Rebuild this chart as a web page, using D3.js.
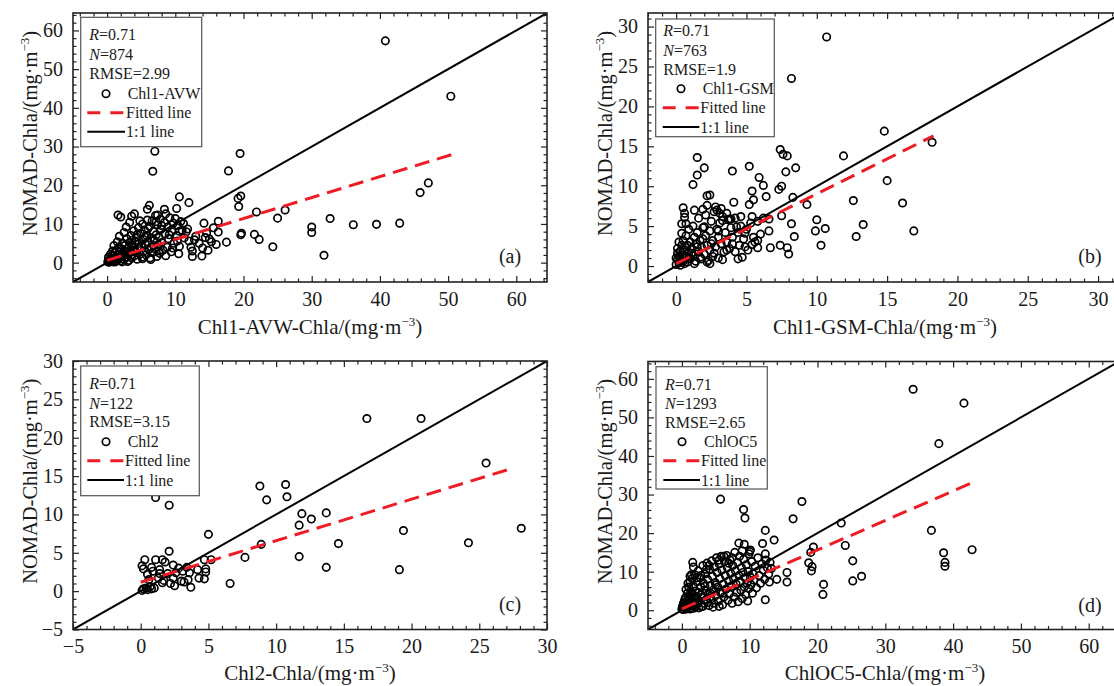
<!DOCTYPE html>
<html><head><meta charset="utf-8">
<script src="https://cdn.jsdelivr.net/npm/d3@7"></script>
<style>body{margin:0;background:#fff;overflow:hidden}</style>
</head><body>
<svg id="chart" width="1114" height="686"></svg>
<script>
// ---------------- DATA ----------------
const panelLetters = ["(a)", "(b)", "(c)", "(d)"];
const xTitles = ["Chl1-AVW-Chla", "Chl1-GSM-Chla", "Chl2-Chla", "ChlOC5-Chla"];
const yTitle = "NOMAD-Chla";
const unitText = "/(mg·m";
const unitSup = "−3";
const seriesNames = ["Chl1-AVW", "Chl1-GSM", "Chl2", "ChlOC5"];
const statR = ["0.71", "0.71", "0.71", "0.71"];
const statN = ["874", "763", "122", "1293"];
const statRMSE = ["2.99", "1.9", "3.15", "2.65"];
const legendFit = "Fitted line";
const legendOne = "1:1 line";

const xDomains = [[-5, 64.5], [-2, 31.7], [-5, 30], [-5, 65.5]];
const yDomains = [[-5, 64.5], [-2, 31.7], [-5, 30], [-5, 64.5]];
const majorTicks = [
  [0, 10, 20, 30, 40, 50, 60],
  [0, 5, 10, 15, 20, 25, 30],
  [-5, 0, 5, 10, 15, 20, 25, 30],
  [0, 10, 20, 30, 40, 50, 60]
];
const minorSteps = [2, 1, 1, 2];

// fitted lines: [start, end]
const fitA = [[0, 0.6], [50.7, 28.0]];
const fitB = [[0, 0.3], [18.3, 16.3]];
const fitC = [[0, 1.16], [27.6, 16.1]];
const fitD = [[0, 0.35], [43.0, 33.2]];

const pointsA = [
  [40.8,57.3],[50.4,43.0],[7.0,28.8],[6.7,23.6],[19.5,28.2],[17.8,23.7],[19.6,17.2],[19.2,16.6],[19.3,14.5],
  [47.1,20.6],[45.9,18.1],[21.9,13.1],[26.1,13.6],[25.0,11.5],[32.7,11.4],[30.0,9.2],[30.0,7.8],[36.1,9.8],
  [39.5,9.9],[42.9,10.2],[31.8,1.9],[24.3,4.1],[21.6,7.3],[22.3,6.0],[19.7,7.6],[19.6,7.2],[10.6,17.0],
  [12.0,15.5],[10.2,14.0],[6.2,14.8],[5.9,13.8],[1.6,12.3],[2.0,11.8],[3.6,12.0],[4.0,12.6],[7.4,12.3],
  [8.4,13.8],[16.3,10.7],[16.3,7.9],[14.2,10.2],[17.5,5.3],[16.0,4.7],[14.8,3.2],[13.9,1.7],[12.5,1.6],
  [10.5,2.3],[14.4,6.5],[15.0,6.1],[12.8,5.9],[11.2,10.1],[10.6,8.1],[11.8,8.7],
  [0.1,0.2],[0.2,0.5],[0.3,0.1],[0.4,0.8],[0.5,0.3],[0.6,1.2],[0.7,0.5],[0.8,1.8],[0.9,0.2],[1.0,0.9],
  [1.1,2.5],[1.2,1.4],[1.3,0.4],[1.4,3.2],[1.5,2.0],[1.6,0.8],[1.7,4.0],[1.8,1.2],[1.9,2.8],[2.0,0.5],
  [2.1,3.6],[2.2,1.8],[2.3,5.0],[2.4,2.4],[2.5,0.9],[2.6,4.4],[2.7,3.0],[2.8,1.4],[2.9,6.2],[3.0,2.0],
  [3.1,3.8],[3.2,0.6],[3.3,5.2],[3.4,2.6],[3.5,7.0],[3.6,1.2],[3.7,4.4],[3.8,3.2],[3.9,8.2],[4.0,1.8],
  [4.1,5.6],[4.2,2.8],[4.3,6.6],[4.4,0.9],[4.5,3.8],[4.6,9.0],[4.7,5.0],[4.8,2.2],[4.9,7.6],[5.0,4.2],
  [5.1,1.4],[5.2,10.0],[5.3,6.0],[5.4,3.0],[5.5,8.4],[5.6,4.8],[5.7,2.0],[5.8,7.0],[5.9,11.0],[6.0,5.4],
  [6.1,3.4],[6.2,9.4],[6.3,1.2],[6.4,6.4],[6.5,4.0],[6.6,10.8],[6.7,2.6],[6.8,8.0],[6.9,5.8],[7.0,3.6],
  [7.1,12.2],[7.2,7.2],[7.3,1.6],[7.4,9.8],[7.5,4.6],[7.6,6.6],[7.7,2.4],[7.8,11.2],[7.9,8.6],[8.0,5.2],
  [8.2,3.2],[8.4,10.4],[8.5,7.4],[8.6,12.6],[8.8,4.0],[8.9,9.2],[9.0,6.2],[9.2,11.6],[9.4,2.8],[9.5,8.0],
  [9.7,10.2],[9.8,5.0],[10.0,11.4],[10.2,7.0],[10.4,9.6],[10.6,4.2],[10.8,10.6],[11.0,8.4],[11.3,6.4],
  [11.6,8.0],[12.0,5.6],[12.3,4.0],[12.5,3.0],[13.0,6.8],[13.5,5.0],[14.0,3.8],[14.6,7.6],[15.3,5.4],[15.6,9.0],
  [0.2,1.4],[0.5,2.2],[0.8,3.0],[1.0,4.4],[1.2,0.2],[1.5,5.4],[1.8,6.8],[2.2,0.2],[2.5,7.8],[2.8,9.2],
  [3.0,0.3],[3.3,10.4],[3.6,5.8],[4.0,3.0],[4.4,7.2],[4.8,10.8],[5.2,1.0],[5.6,6.6],[6.0,8.8],[6.4,0.8],
  [6.8,4.4],[7.2,10.6],[7.6,3.0],[8.0,9.6],[8.6,1.8],[9.1,7.2],[9.6,3.8],[10.3,5.6],[1.0,1.8],[1.4,1.0]
];

const pointsB = [
  [10.7,28.7],[8.2,23.5],[14.8,16.9],[18.2,15.5],[11.9,13.8],[15.0,10.7],[16.1,7.9],[12.6,8.2],[16.9,4.4],
  [13.3,5.2],[12.8,3.7],[10.3,2.6],[10.6,4.7],[9.9,4.4],[10.0,5.8],[9.3,7.7],[8.5,12.3],[7.8,11.8],[7.4,14.6],
  [7.6,14.0],[7.9,13.8],[7.5,10.0],[7.3,9.6],[8.3,8.6],[7.5,6.3],[8.2,5.3],[8.4,3.7],[7.4,2.6],[7.9,2.3],
  [8.0,1.5],[6.7,2.3],[6.6,4.4],[6.6,5.9],[6.4,8.7],[6.2,10.1],[5.9,11.1],[5.2,12.5],[5.4,9.4],[5.5,8.3],
  [5.2,7.7],[5.4,6.2],[5.8,5.6],[5.8,3.2],[5.8,2.3],[5.5,3.6],[5.4,2.7],[4.9,2.4],[4.7,1.1],[4.9,4.1],
  [4.6,6.2],[4.0,11.9],[4.1,8.0],[1.5,13.6],[2.0,12.3],[1.5,11.4],[1.2,10.2],[2.2,8.8],[2.4,8.9],[2.2,7.6],
  [1.9,7.1],[0.5,7.3],[0.6,6.6],[0.7,5.3],[0.4,4.1],[2.8,7.4],[3.1,6.6],[3.3,5.7],[3.8,5.9],[2.0,4.9],
  [0.0,0.2],[0.1,0.8],[0.1,1.6],[0.2,0.4],[0.2,1.2],[0.3,1.9],[0.3,0.1],[0.4,0.7],[0.4,2.6],[0.5,1.4],
  [0.5,3.2],[0.6,0.3],[0.6,2.0],[0.7,1.0],[0.7,3.8],[0.8,2.6],[0.8,0.5],[0.9,1.7],[0.9,4.6],[1.0,3.0],
  [1.0,0.9],[1.1,2.2],[1.2,5.0],[1.2,1.3],[1.3,3.6],[1.4,0.6],[1.4,2.8],[1.5,4.2],[1.6,1.8],[1.6,6.0],
  [1.7,3.2],[1.8,0.9],[1.8,2.4],[1.9,4.8],[2.0,1.5],[2.1,3.8],[2.1,6.4],[2.2,2.6],[2.3,0.7],[2.4,4.4],
  [2.4,2.0],[2.5,5.6],[2.6,3.2],[2.6,1.2],[2.7,6.8],[2.8,2.4],[2.9,4.6],[3.0,1.0],[3.0,3.6],[3.1,5.4],
  [3.2,2.8],[3.3,6.2],[3.4,1.8],[3.5,4.2],[3.6,3.0],[3.7,5.8],[3.8,2.2],[3.9,4.8],[4.0,3.6],[4.2,1.8],
  [4.2,6.0],[4.4,4.2],[4.5,2.6],[4.6,5.0],[4.8,3.4],[5.0,4.6],[5.1,2.0],[5.3,5.4],[5.6,3.0],[6.0,4.0],
  [6.2,6.0],[3.2,7.2],[2.9,7.0],[3.6,6.6],[1.3,7.0],[0.6,6.1],[0.4,5.3],[0.2,3.0],[3.9,5.9],[4.3,4.9],
  [0.0,1.0],[0.1,2.2],[0.3,0.9],[0.5,0.6],[0.7,2.4],[0.9,1.1],[1.1,1.6],[1.3,0.3],[1.5,2.4],[1.7,1.1],
  [1.9,3.4],[2.2,0.5],[2.5,2.8],[2.7,1.6],[3.0,4.4],[3.3,0.8],[3.6,2.0],[4.0,2.8],[4.4,0.9],[2.4,0.3]
];

const pointsC = [
  [16.7,22.5],[20.7,22.5],[25.5,16.7],[28.1,8.2],[24.2,6.3],[19.4,7.9],[19.1,2.8],[14.6,6.2],[13.7,3.1],
  [13.7,10.2],[12.6,9.4],[11.9,10.1],[11.7,8.6],[11.7,4.5],[10.7,13.9],[10.8,12.3],[8.8,13.7],[9.3,11.9],
  [8.9,6.1],[7.7,4.4],[6.6,1.0],[5.0,7.4],[2.1,11.2],[1.1,12.2],[2.1,5.2],[0.3,4.1],[0.1,3.3],[0.2,2.9],
  [1.1,4.1],[0.8,3.1],[1.4,2.8],[1.6,4.1],[1.8,3.8],[0.5,2.2],[2.4,3.4],[2.8,3.0],[2.4,1.7],[2.5,0.7],
  [3.0,1.3],[3.2,1.2],[3.4,3.1],[3.6,2.4],[3.7,0.5],[3.5,1.5],[4.3,1.7],[4.7,1.6],[4.2,2.8],[4.8,2.9],
  [4.7,4.1],[5.2,4.1],[4.8,2.5],[1.6,1.1],[1.0,0.4],[0.7,0.6],[0.4,0.4],[0.1,0.1],[0.2,0.3],[0.5,0.2],
  [0.8,0.3],[1.4,2.3],[1.7,1.4],[2.0,2.3],[2.2,1.0],[1.3,1.7],[0.6,1.5],[0.9,2.6],[2.6,2.4],[3.1,2.6]
];

const pointsD = [
  [34.1,57.3],[41.6,53.7],[37.9,43.2],[5.7,28.8],[9.1,26.1],[9.3,23.9],[17.7,28.2],[16.4,23.7],[23.5,22.6],
  [36.8,20.7],[42.8,15.7],[38.6,14.9],[38.8,12.4],[38.8,11.4],[24.1,16.8],[25.2,12.8],[25.2,7.6],[26.5,8.8],
  [20.9,6.7],[20.8,4.1],[19.4,16.4],[19.0,15.0],[18.7,12.3],[19.2,11.3],[19.1,10.2],[15.5,9.8],[15.5,7.3],
  [13.6,18.2],[12.3,20.7],[11.9,17.3],[12.3,14.6],[12.3,2.7],[14.0,8.0],[12.9,7.3],[10.1,15.6],[9.2,17.1],
  [8.4,17.4],[1.6,12.4],[1.7,11.2],[1.2,8.8],
  [0.0,0.3],[0.1,1.0],[0.2,0.2],[0.3,2.0],[0.4,0.8],[0.5,3.2],[0.6,1.5],[0.7,0.4],[0.8,4.4],[0.9,2.4],
  [1.0,6.0],[1.0,1.0],[1.1,3.4],[1.2,7.4],[1.3,0.6],[1.3,5.0],[1.4,2.0],[1.5,8.2],[1.6,4.0],[1.6,1.2],
  [1.7,6.2],[1.8,2.8],[1.9,9.2],[2.0,0.8],[2.0,5.0],[2.1,3.6],[2.2,7.4],[2.3,1.6],[2.4,10.2],[2.5,4.6],
  [2.6,2.4],[2.7,8.4],[2.8,6.0],[2.9,0.9],[3.0,3.4],[3.1,11.6],[3.2,7.0],[3.3,1.8],[3.4,9.4],[3.5,5.0],
  [3.6,2.8],[3.7,12.2],[3.8,8.0],[3.9,4.2],[4.0,1.2],[4.1,10.6],[4.2,6.4],[4.3,3.0],[4.4,12.8],[4.5,8.8],
  [4.6,5.2],[4.7,1.8],[4.8,11.2],[4.9,7.2],[5.0,3.8],[5.1,13.6],[5.2,9.8],[5.3,6.0],[5.4,2.4],[5.5,12.0],
  [5.6,8.2],[5.7,4.6],[5.8,14.0],[5.9,10.4],[6.0,1.4],[6.1,6.8],[6.2,3.4],[6.3,12.6],[6.4,9.0],[6.5,5.4],
  [6.6,14.2],[6.7,11.0],[6.8,2.6],[6.9,7.6],[7.0,4.2],[7.1,13.0],[7.2,9.6],[7.3,6.2],[7.4,1.8],[7.5,11.6],
  [7.6,8.2],[7.7,3.4],[7.8,15.0],[7.9,10.2],[8.0,6.8],[8.1,4.6],[8.2,12.4],[8.3,2.2],[8.4,9.0],[8.5,14.0],
  [8.6,7.4],[8.7,5.2],[8.8,11.0],[8.9,3.0],[9.0,9.8],[9.1,13.2],[9.2,6.0],[9.3,8.4],[9.4,4.0],[9.5,11.8],
  [9.6,7.0],[9.7,2.4],[9.8,10.0],[9.9,5.6],[10.0,15.2],[10.1,8.6],[10.2,6.6],[10.3,12.6],[10.4,4.4],[10.5,9.4],
  [10.6,7.8],[10.8,11.4],[11.0,5.8],[11.2,13.6],[11.4,9.0],[11.6,7.0],[11.8,12.0],[12.0,10.4],[12.2,8.0],
  [12.4,13.0],[12.6,11.0],[12.8,9.4],[13.0,12.4],[13.2,10.8],[6.2,14.0],[6.9,12.2],[7.4,13.6],[8.9,15.4],
  [9.9,14.6],[5.5,13.0],[4.0,11.6],[3.6,10.6],[2.8,9.0],[2.2,8.4],[1.4,9.2],[0.9,7.0],[0.6,5.4],
  [0.2,1.6],[0.4,2.6],[0.6,0.3],[0.8,1.8],[1.0,3.0],[1.2,0.3],[1.4,4.4],[1.7,0.5],[1.9,2.0],[2.2,3.0],
  [2.5,0.6],[2.8,4.0],[3.1,1.0],[3.4,6.2],[3.8,2.0],[4.2,4.4],[4.6,0.8],[5.0,6.6],[5.5,1.0],[6.0,4.4]
];

const allPoints = [pointsA, pointsB, pointsC, pointsD];
const allFits = [fitA, fitB, fitC, fitD];

// ---------------- LAYOUT ----------------
const FONT = '"Liberation Serif", "Times New Roman", Times, serif';
const layout = [
  {l: 73, t: 13, w: 474, h: 269, xt: 52},
  {l: 648, t: 13, w: 474, h: 269, xt: 52},
  {l: 73, t: 361, w: 474, h: 268.5, xt: 50},
  {l: 648, t: 361.5, w: 478, h: 268, xt: 50}
];
const legendLayout = [
  {box: [7.7, 4.3, 121, 129.4], rows: [21.7, 41.3, 60.7, 80.7, 99.7, 118.7], tx: 16.3, cx: 33, ix: 54.7, lx: [14.3, 52]},
  {box: [7.7, 6, 118.6, 117.7], rows: [17.7, 37, 56.3, 75.7, 94.7, 114], tx: 15.3, cx: 33, ix: 54.7, lx: [14.7, 51.3]},
  {box: [7.7, 5, 118.6, 129.7], rows: [22.3, 42.3, 60.7, 80.7, 99.7, 119], tx: 16.3, cx: 33, ix: 54.7, lx: [14.3, 51]},
  {box: [8, 5.2, 111.3, 122.3], rows: [22.5, 41.8, 60.8, 80.2, 99.2, 118.5], tx: 17, cx: 34, ix: 56, lx: [15.3, 52]}
];
const letterX = [437, 442, 437, 442];

const svg = d3.select("#chart");
const RED = "#ee1c25";
const INK = "#1a1a1a";

layout.forEach((L, i) => {
  const g = svg.append("g").attr("transform", `translate(${L.l},${L.t})`);
  const xd = xDomains[i], yd = yDomains[i];
  const x = d3.scaleLinear().domain(xd).range([0, L.w]);
  const y = d3.scaleLinear().domain(yd).range([L.h, 0]);
  const minorOf = d => d3.range(Math.ceil(d[0] / minorSteps[i]) * minorSteps[i], d[1] + 1e-9, minorSteps[i])
    .filter(v => !majorTicks[i].includes(v));
  const minorX = minorOf(xd), minorY = minorOf(yd);
  const fmt = v => (v < 0 ? "−" + Math.abs(v) : String(v));

  const clipId = "clip" + i;
  g.append("clipPath").attr("id", clipId).append("rect").attr("width", L.w).attr("height", L.h);
  const plot = g.append("g").attr("clip-path", `url(#${clipId})`);

  const styleAxis = (sel) => {
    sel.select(".domain").remove();
    sel.selectAll("line").attr("stroke", "#222").attr("stroke-width", 1.2);
    sel.selectAll("text").attr("font-family", FONT).attr("font-size", 20).attr("fill", INK);
  };
  g.append("g").attr("transform", `translate(0,${L.h})`)
    .call(d3.axisBottom(x).tickValues(majorTicks[i]).tickSizeInner(-6).tickSizeOuter(0).tickPadding(9.5).tickFormat(fmt))
    .call(styleAxis);
  g.append("g").attr("transform", `translate(0,${L.h})`)
    .call(d3.axisBottom(x).tickValues(minorX).tickSizeInner(-3.5).tickSizeOuter(0).tickFormat(""))
    .call(styleAxis);
  g.append("g")
    .call(d3.axisTop(x).tickValues(majorTicks[i]).tickSizeInner(-6).tickSizeOuter(0).tickFormat(""))
    .call(styleAxis);
  g.append("g")
    .call(d3.axisTop(x).tickValues(minorX).tickSizeInner(-3.5).tickSizeOuter(0).tickFormat(""))
    .call(styleAxis);
  g.append("g")
    .call(d3.axisLeft(y).tickValues(majorTicks[i]).tickSizeInner(-6).tickSizeOuter(0).tickPadding(10).tickFormat(fmt))
    .call(styleAxis);
  g.append("g")
    .call(d3.axisLeft(y).tickValues(minorY).tickSizeInner(-3.5).tickSizeOuter(0).tickFormat(""))
    .call(styleAxis);
  g.append("g").attr("transform", `translate(${L.w},0)`)
    .call(d3.axisRight(y).tickValues(majorTicks[i]).tickSizeInner(-6).tickSizeOuter(0).tickFormat(""))
    .call(styleAxis);
  g.append("g").attr("transform", `translate(${L.w},0)`)
    .call(d3.axisRight(y).tickValues(minorY).tickSizeInner(-3.5).tickSizeOuter(0).tickFormat(""))
    .call(styleAxis);

  // points
  plot.selectAll("circle.pt").data(allPoints[i]).enter().append("circle")
    .attr("class", "pt")
    .attr("cx", d => x(d[0])).attr("cy", d => y(d[1])).attr("r", 3.7)
    .attr("fill", "none").attr("stroke", "#000").attr("stroke-width", 1.7);

  // 1:1 line
  const lo = Math.min(xd[0], yd[0]), hi = Math.max(xd[1], yd[1]);
  plot.append("line")
    .attr("x1", x(lo)).attr("y1", y(lo)).attr("x2", x(hi)).attr("y2", y(hi))
    .attr("stroke", "#000").attr("stroke-width", 2);

  // fitted line
  const f = allFits[i];
  plot.append("line")
    .attr("x1", x(f[0][0])).attr("y1", y(f[0][1]))
    .attr("x2", x(f[1][0])).attr("y2", y(f[1][1]))
    .attr("stroke", RED).attr("stroke-width", 3).attr("stroke-dasharray", "15,8");

  // frame
  g.append("rect").attr("width", L.w).attr("height", L.h)
    .attr("fill", "none").attr("stroke", "#222").attr("stroke-width", 1.6);

  // legend
  const LG = legendLayout[i];
  const lg = g.append("g");
  lg.append("rect").attr("x", LG.box[0]).attr("y", LG.box[1]).attr("width", LG.box[2]).attr("height", LG.box[3])
    .attr("fill", "#fff").attr("stroke", "#555").attr("stroke-width", 1.2);
  const lt = (yy, xx) => lg.append("text").attr("x", xx).attr("y", yy + 5.5)
    .attr("font-family", FONT).attr("font-size", 16).attr("fill", INK);
  const t1 = lt(LG.rows[0], LG.tx);
  t1.append("tspan").attr("font-style", "italic").text("R");
  t1.append("tspan").text("=" + statR[i]);
  const t2 = lt(LG.rows[1], LG.tx);
  t2.append("tspan").attr("font-style", "italic").text("N");
  t2.append("tspan").text("=" + statN[i]);
  lt(LG.rows[2], LG.tx).text("RMSE=" + statRMSE[i]);
  lg.append("circle").attr("cx", LG.cx).attr("cy", LG.rows[3]).attr("r", 3.7)
    .attr("fill", "none").attr("stroke", "#000").attr("stroke-width", 1.7);
  lt(LG.rows[3], LG.ix).text(seriesNames[i]);
  lg.append("line").attr("x1", LG.lx[0]).attr("x2", LG.lx[1]).attr("y1", LG.rows[4]).attr("y2", LG.rows[4])
    .attr("stroke", RED).attr("stroke-width", 3).attr("stroke-dasharray", "13,10");
  lt(LG.rows[4], LG.lx[1] + 1).text(legendFit);
  lg.append("line").attr("x1", LG.lx[0]).attr("x2", LG.lx[1]).attr("y1", LG.rows[5]).attr("y2", LG.rows[5])
    .attr("stroke", "#000").attr("stroke-width", 2);
  lt(LG.rows[5], LG.lx[1] + 1).text(legendOne);

  // panel letter
  g.append("text").attr("x", letterX[i]).attr("y", 250)
    .attr("text-anchor", "middle").attr("font-family", FONT).attr("font-size", 20).attr("fill", INK)
    .text(panelLetters[i]);

  // axis titles
  const addTitle = (sel, base) => {
    sel.append("tspan").text(base + unitText);
    sel.append("tspan").attr("font-size", 13).attr("dy", -8).text(unitSup);
    sel.append("tspan").attr("dy", 8).text(")");
  };
  const xt = g.append("text").attr("x", 237).attr("y", L.h + L.xt)
    .attr("text-anchor", "middle").attr("font-family", FONT).attr("font-size", 21).attr("fill", INK);
  addTitle(xt, xTitles[i]);
  const yt = g.append("text").attr("transform", `translate(-36,${L.h / 2 - 14}) rotate(-90)`)
    .attr("text-anchor", "middle").attr("font-family", FONT).attr("font-size", 20.5).attr("fill", INK);
  addTitle(yt, yTitle);
});
</script>
</body></html>
